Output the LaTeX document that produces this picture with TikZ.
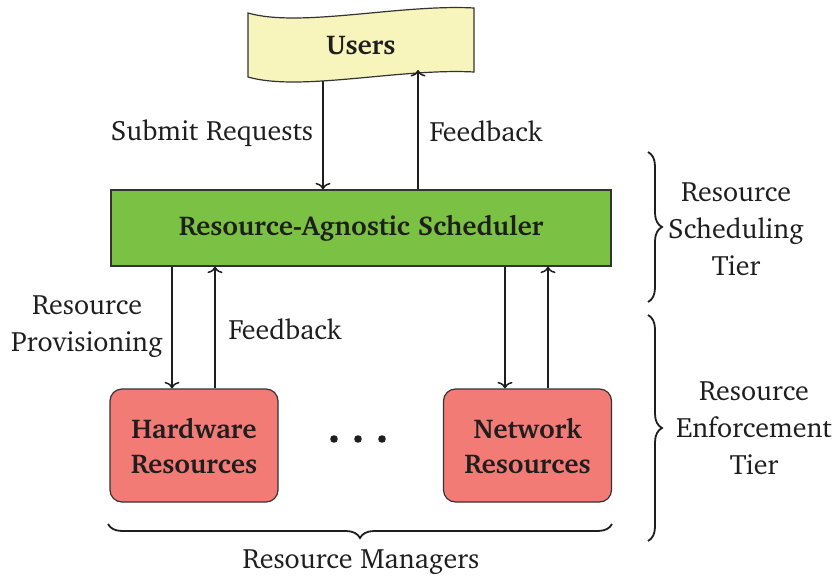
\documentclass[tikz,border=0pt]{standalone}
\usepackage[T1]{fontenc}
\usepackage{charter}
\usetikzlibrary{arrows.meta,decorations.pathreplacing}
\definecolor{userfill}{HTML}{F7F4BC}
\definecolor{schedfill}{HTML}{7BC143}
\definecolor{resfill}{HTML}{F27B76}
\definecolor{edge}{HTML}{333333}
\definecolor{ink}{HTML}{1E1E1E}
\begin{document}
\begin{tikzpicture}[x=1pt,y=-1pt,
  txt/.style={font=\fontsize{28}{37}\selectfont, align=center, text=ink, inner sep=0pt},
  boldtxt/.style={font=\fontsize{27.2}{35}\selectfont\bfseries, align=center, text=ink, inner sep=0pt},
  box/.style={draw=edge, line width=1.2pt},
  arr/.style={draw=ink, line width=1.5pt, -{To[length=6.5pt,width=15pt]}},
  brc/.style={draw=ink, line width=1.8pt, decorate, decoration={brace, amplitude=14pt}}
]
\useasboundingbox (0,0) rectangle (835,581);

% users banner
\draw[box, fill=userfill] (248,13) .. controls (300,28) and (400,4) .. (474,8)
  -- (474,72) .. controls (400,68) and (300,92) .. (248,77) -- cycle;
\node[boldtxt] (users) at (361,45) {Users};
\coordinate (ubotL) at (323,81);
\coordinate (ubotR) at (418,70);

% scheduler
\node[box, fill=schedfill, minimum width=500pt, minimum height=76pt, inner sep=0pt] (sched) at (361,228) {};
\node[boldtxt] at (sched.center) {Resource-Agnostic Scheduler};

% resource managers
\node[box, fill=resfill, rounded corners=12pt, minimum width=168pt, minimum height=113pt, inner sep=0pt] (hw) at (194,445.5) {};
\node[boldtxt] at (hw.center) {Hardware\\Resources};
\node[box, fill=resfill, rounded corners=12pt, minimum width=168pt, minimum height=113pt, inner sep=0pt] (net) at (527.5,445.5) {};
\node[boldtxt] at (net.center) {Network\\Resources};

\fill[ink] (334,439) circle (3.8) (358,439) circle (3.8) (382,439) circle (3.8);

% connectors
\draw[arr] (ubotL) -- (ubotL |- sched.north);
\draw[arr] (ubotR |- sched.north) -- (ubotR);
\draw[arr] (sched.south -| 172,0) -- (hw.north -| 172,0);
\draw[arr] (hw.north -| 215,0) -- (sched.south -| 215,0);
\draw[arr] (sched.south -| 505,0) -- (net.north -| 505,0);
\draw[arr] (net.north -| 548,0) -- (sched.south -| 548,0);

% labels
\node[txt] at (212,133) {Submit Requests};
\node[txt] at (486,131) {Feedback};
\node[txt] at (87,326) {Resource\\Provisioning};
\node[txt] at (285,329) {Feedback};

% braces
\draw[brc] (648,152) -- (648,302);
\draw[brc] (648,315) -- (648,541);
\draw[brc] (612,524) -- (108,524);
\node[txt] at (736,229) {Resource\\Scheduling\\Tier};
\node[txt] at (754,428) {Resource\\Enforcement\\Tier};
\node[txt] at (361,562) {Resource Managers};
\end{tikzpicture}
\end{document}
